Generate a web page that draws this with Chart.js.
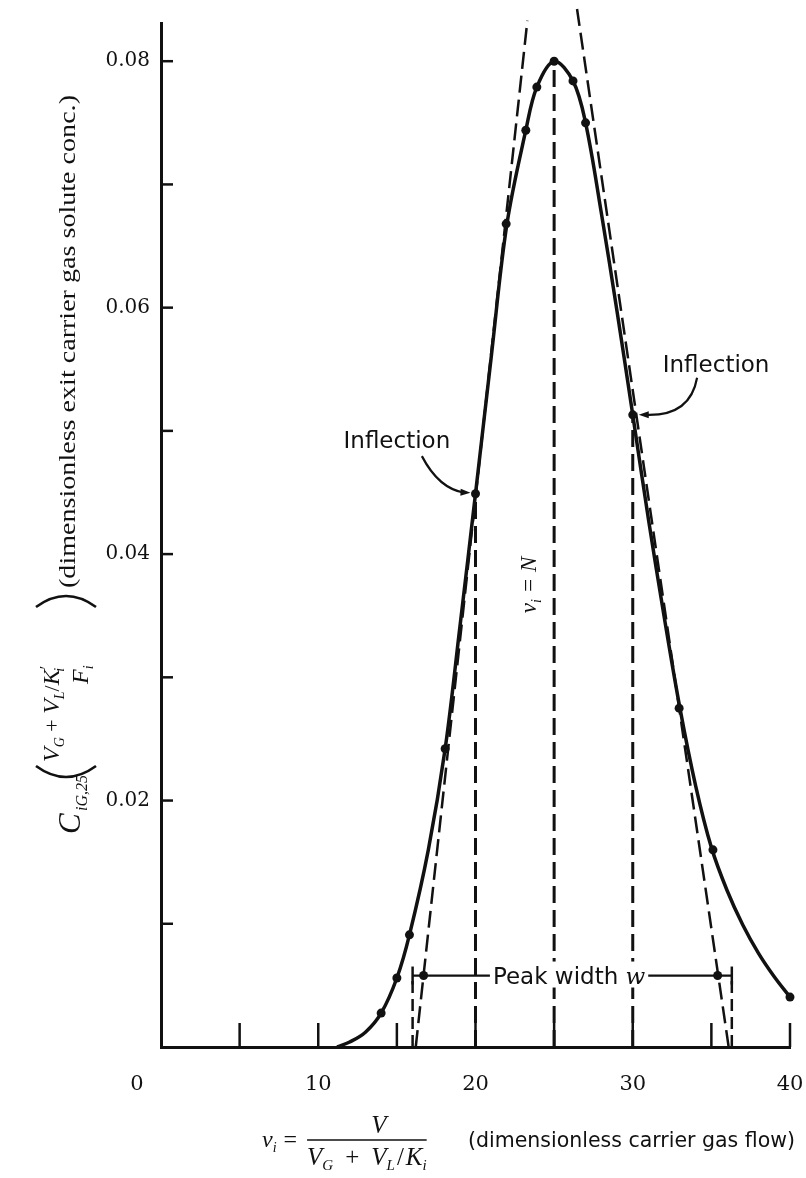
<!DOCTYPE html>
<html><head><meta charset="utf-8">
<script src="https://cdn.jsdelivr.net/npm/chart.js@4/dist/chart.umd.min.js"></script>
<style>html,body{margin:0;padding:0;background:#fff;}canvas{display:block;}</style>
</head><body>
<canvas id="c" width="806" height="1178"></canvas>
<script>
// ---- data ----
const curveX = [11.2, 12, 13, 14, 15, 15.8, 17, 18.07, 19, 20, 21, 22, 23.2, 23.9, 25, 26.2, 27, 28, 29, 30, 31, 32, 33, 34, 35, 36, 37, 38, 39, 40];
const curveY = [0, 0.0004, 0.0012, 0.00275, 0.0056, 0.0091, 0.0160, 0.0242, 0.0340, 0.0449, 0.0560, 0.0668, 0.0744, 0.0779, 0.0800, 0.0784, 0.0750, 0.0677, 0.0597, 0.0513, 0.0428, 0.0349, 0.0275, 0.0212, 0.0162, 0.0127, 0.0099, 0.0076, 0.0057, 0.00405];
const dotX = [14.0, 15.0, 15.8, 18.07, 20.0, 21.95, 23.2, 23.9, 25.0, 26.2, 27.0, 30.0, 32.95, 35.1, 40.0];
const dotY = [0.00275, 0.0056, 0.0091, 0.0242, 0.0449, 0.0668, 0.0744, 0.0779, 0.0800, 0.0784, 0.0750, 0.0513, 0.0275, 0.0160, 0.00405];
const tangentLeftX = [16.2, 23.3];
const tangentLeftY = [0, 0.0833];
const tangentRightX = [36.1, 26.45];
const tangentRightY = [0, 0.0843];
const markerX = [20, 25, 30];
const markerTopY = [0.0449, 0.0800, 0.0513];
const widthBarY = 0.0058;
const widthBarEnds = [16.0, 36.3];
const widthBarDots = [16.7, 35.4];
const xTickValues = [5, 10, 15, 20, 25, 30, 35, 40];
const xTickLabels = [0, 10, 20, 30, 40];
const yTickLabels = [0.02, 0.04, 0.06, 0.08];
const inflectionLeft = {x: 20.0, y: 0.0449};
const inflectionRight = {x: 30.0, y: 0.0513};

const INK = '#111';
const pts = (xs, ys) => xs.map((x, i) => ({x, y: ys[i]}));
const DASH = [17, 7];

const datasets = [
  {data: pts(curveX, curveY), showLine: true, borderColor: INK, borderWidth: 3.5, pointRadius: 0, tension: 0.35, clip: 8, order: 1},
  {data: pts(dotX, dotY), showLine: false, pointRadius: 4.5, pointBackgroundColor: INK, pointBorderWidth: 0, clip: false, order: 0},
  {data: pts(tangentLeftX, tangentLeftY), showLine: true, borderColor: INK, borderWidth: 2.5, borderDash: DASH, pointRadius: 0, clip: false, order: 2},
  {data: pts(tangentRightX, tangentRightY), showLine: true, borderColor: INK, borderWidth: 2.5, borderDash: DASH, pointRadius: 0, clip: false, order: 2},
];
markerX.forEach((x, i) => datasets.push({data: [{x, y: 0}, {x, y: markerTopY[i]}], showLine: true, borderColor: INK, borderWidth: 3, borderDash: DASH, pointRadius: 0, order: 2}));
widthBarEnds.forEach(x => datasets.push({data: [{x, y: 0}, {x, y: widthBarY}], showLine: true, borderColor: INK, borderWidth: 2.5, borderDash: [12, 6], pointRadius: 0, order: 2}));
datasets.push({data: widthBarEnds.map(x => ({x, y: widthBarY})), showLine: true, borderColor: INK, borderWidth: 2.2, pointStyle: 'line', rotation: 90, pointRadius: 9, pointBorderWidth: 2.5, pointBorderColor: INK, order: 3});
datasets.push({data: widthBarDots.map(x => ({x, y: widthBarY})), showLine: false, pointRadius: 4.5, pointBackgroundColor: INK, pointBorderWidth: 0, order: 0});

function arrowHead(ctx, x, y, ang, len, wid) {
  ctx.save(); ctx.translate(x, y); ctx.rotate(ang);
  ctx.beginPath(); ctx.moveTo(0, 0); ctx.lineTo(-len, -wid); ctx.lineTo(-len, wid); ctx.closePath(); ctx.fill();
  ctx.restore();
}
function runs(ctx, x, base, list) {
  list.forEach(r => {
    ctx.font = r.f;
    ctx.fillText(r.t, x, base + (r.dy || 0));
    x += ctx.measureText(r.t).width + (r.gap || 0);
  });
  return x;
}

const deco = {
  id: 'deco',
  afterDatasetsDraw(chart) {
    const ctx = chart.ctx, xs = chart.scales.x, ys = chart.scales.y;
    const X = v => xs.getPixelForValue(v), Y = v => ys.getPixelForValue(v);
    const area = chart.chartArea;
    ctx.save();
    ctx.strokeStyle = INK; ctx.fillStyle = INK; ctx.setLineDash([]);
    ctx.lineWidth = 2.5;
    xTickValues.forEach(v => { ctx.beginPath(); ctx.moveTo(X(v), area.bottom); ctx.lineTo(X(v), area.bottom - 24); ctx.stroke(); });
    for (let k = 1; k <= 8; k++) { const y = Y(k / 100); ctx.beginPath(); ctx.moveTo(area.left, y); ctx.lineTo(area.left + 12, y); ctx.stroke(); }
    ctx.font = '21px "DejaVu Serif"'; ctx.textAlign = 'center'; ctx.textBaseline = 'middle';
    xTickLabels.forEach(v => ctx.fillText(String(v), X(v) + (v === 0 ? -24 : 0), area.bottom + 38));

    // Peak width label
    const by = Y(widthBarY), cx = X(25.95);
    ctx.font = '23px "DejaVu Sans"';
    const t1 = 'Peak width ', w1 = ctx.measureText(t1).width;
    ctx.font = 'italic 23px "DejaVu Serif"';
    const w2 = ctx.measureText('w').width;
    const left = cx - (w1 + w2) / 2;
    ctx.fillStyle = '#fff'; ctx.fillRect(left - 3, by - 14, w1 + w2 + 6, 26);
    ctx.fillStyle = INK; ctx.textAlign = 'left'; ctx.textBaseline = 'alphabetic';
    ctx.font = '23px "DejaVu Sans"'; ctx.fillText(t1, left, by + 8);
    ctx.font = 'italic 23px "DejaVu Serif"'; ctx.fillText('w', left + w1, by + 8);

    // Inflection labels + arrows
    ctx.font = '23px "DejaVu Sans"'; ctx.textAlign = 'center';
    ctx.fillText('Inflection', X(15.0), Y(0.0486));
    ctx.fillText('Inflection', X(35.3), Y(0.0548));
    ctx.lineWidth = 2.2;
    let ex = X(inflectionLeft.x) - 5, ey = Y(inflectionLeft.y) - 1;
    ctx.beginPath(); ctx.moveTo(X(15.0) + 25, Y(0.0486) + 8);
    ctx.quadraticCurveTo(X(15.0) + 42, ey - 4, ex - 6, ey); ctx.stroke();
    arrowHead(ctx, ex, ey, 0.05, 10, 3.5);
    ex = X(inflectionRight.x) + 6; ey = Y(inflectionRight.y);
    ctx.beginPath(); ctx.moveTo(X(35.3) - 19, Y(0.0548) + 6);
    ctx.quadraticCurveTo(X(35.3) - 26, ey + 2, ex + 6, ey); ctx.stroke();
    arrowHead(ctx, ex, ey, Math.PI, 10, 3.5);

    // v_i = N (vertical)
    ctx.save(); ctx.translate(X(25) - 18, Y(0.0375)); ctx.rotate(-Math.PI / 2);
    ctx.textAlign = 'left';
    let w = 0;
    ctx.font = 'italic 23px "Liberation Serif"'; w += ctx.measureText('v').width;
    ctx.font = 'italic 14px "Liberation Serif"'; w += ctx.measureText('i').width;
    ctx.font = 'italic 23px "Liberation Serif"'; w += ctx.measureText(' = N').width;
    runs(ctx, -w / 2, 0, [
      {t: 'v', f: 'italic 23px "Liberation Serif"'},
      {t: 'i', f: 'italic 14px "Liberation Serif"', dy: 5},
      {t: ' = N', f: 'italic 23px "Liberation Serif"'}
    ]);
    ctx.restore();
    ctx.restore();
  },
  afterDraw(chart) {
    const ctx = chart.ctx;
    ctx.save(); ctx.fillStyle = INK; ctx.strokeStyle = INK; ctx.textAlign = 'left'; ctx.textBaseline = 'alphabetic';
    // ---- y axis title (rotated) ----
    ctx.save(); ctx.translate(75, 0); ctx.rotate(-Math.PI / 2);
    runs(ctx, -834, 5, [{t: 'C', f: 'italic 31px "Liberation Serif"'}]);
    runs(ctx, -811, 12, [{t: 'iG,25', f: 'italic 16px "Liberation Serif"'}]);
    runs(ctx, -762, -16, [
      {t: 'V', f: 'italic 24px "Liberation Serif"'},
      {t: 'G', f: 'italic 14px "Liberation Serif"', dy: 5},
      {t: ' + ', f: '22px "Liberation Serif"'},
      {t: 'V', f: 'italic 24px "Liberation Serif"'},
      {t: 'L', f: 'italic 14px "Liberation Serif"', dy: 5},
      {t: '/', f: '22px "Liberation Serif"'},
      {t: 'K', f: 'italic 24px "Liberation Serif"'},
      {t: '′', f: '16px "Liberation Serif"', dy: -8, gap: -6},
      {t: 'i', f: 'italic 14px "Liberation Serif"', dy: 5}
    ]);
    runs(ctx, -684, 13, [
      {t: 'F', f: 'italic 24px "Liberation Serif"'},
      {t: 'i', f: 'italic 14px "Liberation Serif"', dy: 5}
    ]);
    ctx.lineWidth = 2.6;
    ctx.beginPath(); ctx.moveTo(-766, -39); ctx.quadraticCurveTo(-788, -9, -766, 21); ctx.stroke();
    ctx.beginPath(); ctx.moveTo(-607, -39); ctx.quadraticCurveTo(-585, -9, -607, 21); ctx.stroke();
    const yt = '(dimensionless exit carrier gas solute conc.)';
    ctx.font = '24px "Liberation Serif"';
    const tw = ctx.measureText(yt).width;
    ctx.save(); ctx.translate(-588, 0); ctx.scale(493 / tw, 1); ctx.fillText(yt, 0, 0); ctx.restore();
    ctx.restore();

    // ---- x axis title ----
    const base = 1147;
    let x = runs(ctx, 262, base, [
      {t: 'v', f: 'italic 24px "Liberation Serif"'},
      {t: 'i', f: 'italic 14px "Liberation Serif"', dy: 5, gap: 7},
      {t: '=', f: '24px "Liberation Serif"', gap: 10}
    ]);
    const fracL = x;
    const fracR = runs(ctx, fracL, base + 18, [
      {t: 'V', f: 'italic 25px "Liberation Serif"'},
      {t: 'G', f: 'italic 15px "Liberation Serif"', dy: 5, gap: 12},
      {t: '+', f: '25px "Liberation Serif"', gap: 12},
      {t: 'V', f: 'italic 25px "Liberation Serif"'},
      {t: 'L', f: 'italic 15px "Liberation Serif"', dy: 5, gap: 2},
      {t: '/', f: '25px "Liberation Serif"', gap: 2},
      {t: 'K', f: 'italic 25px "Liberation Serif"'},
      {t: 'i', f: 'italic 15px "Liberation Serif"', dy: 5}
    ]);
    ctx.lineWidth = 1.6;
    ctx.beginPath(); ctx.moveTo(fracL, base - 7); ctx.lineTo(fracR, base - 7); ctx.stroke();
    ctx.font = 'italic 25px "Liberation Serif"'; ctx.textAlign = 'center';
    ctx.fillText('V', (fracL + fracR) / 2 + 12, base - 14);
    ctx.font = '20.5px "DejaVu Sans"'; ctx.textAlign = 'right';
    ctx.fillText('(dimensionless carrier gas flow)', 795, base);
    ctx.restore();
  }
};

new Chart(document.getElementById('c'), {
  type: 'scatter',
  data: {datasets},
  options: {
    responsive: false, animation: false, devicePixelRatio: 1,
    layout: {padding: {left: 0, right: 16, top: 22, bottom: 0}},
    plugins: {legend: {display: false}, tooltip: {enabled: false}},
    scales: {
      x: {type: 'linear', min: 0, max: 40,
        ticks: {display: false, stepSize: 5},
        grid: {display: false, drawTicks: false},
        border: {display: true, color: INK, width: 3},
        afterFit: s => { s.height = 131; }},
      y: {type: 'linear', min: 0, max: 0.0831,
        ticks: {stepSize: 0.01, color: INK, padding: 11, font: {family: 'DejaVu Serif', size: 20},
          callback: v => yTickLabels.some(t => Math.abs(t - v) < 1e-9) ? v.toFixed(2) : ''},
        grid: {display: false, drawTicks: false},
        border: {display: true, color: INK, width: 3},
        afterFit: s => { s.width = 161; }}
    }
  },
  plugins: [deco]
});
</script>
</body></html>
